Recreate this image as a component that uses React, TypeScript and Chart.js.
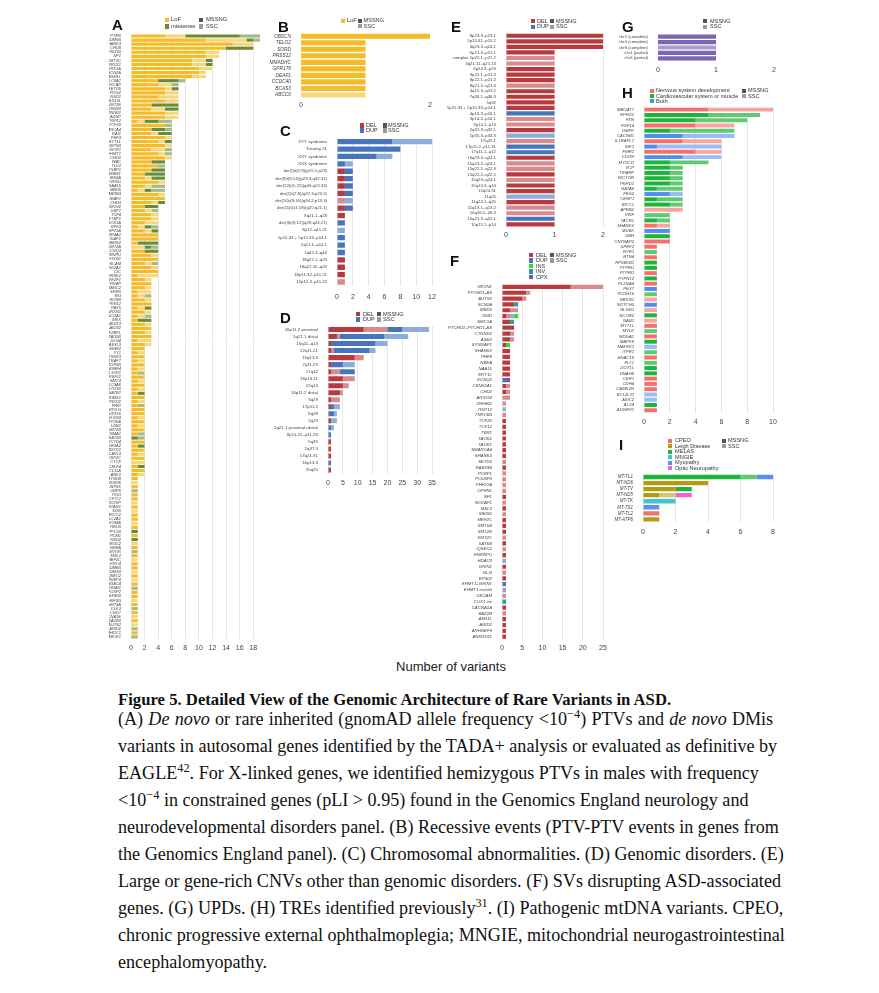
import React, { useEffect, useRef } from "react";
import { Chart, registerables } from "chart.js";
Chart.register(...registerables);

const SANS = "'Liberation Sans', Arial, Helvetica, sans-serif";
const SERIF = "'Liberation Serif', 'Times New Roman', Times, serif";

// ---------------- Panel A ----------------
const aGenes = [
  "PTEN","KDM5B","SHANK3","CHD8","ARID1B","NF1","KMT2C","ANKRD11","DYRK1A","SCN2A","ASH1L","SLC6A1",
  "SRCAP","SETD5","POGZ","NSD1","MED13L","KMT2E","GRIN2B","CTNNB1","ADNP",
  "TRIP12","TCF20","SMARCA4","RAI1","PHF3","MYT1L","KMT5B","GIGYF1","EHMT1","CHD2",
  "WAC","TLK2","STXBP1","SPAST","SIN3A","PPP2R5D","NAA15","MBD5","GABRB3","DEAF1","CHD3",
  "ZNF292","USP7","TCF4","SETBP1","SCN1A","RFX3","PHF21A","NR4A2","NCKAP1","MEIS2","KMT2A","KCNQ3","HNRNPU","FOXG1","DSCAM","CSNK2A1","CIC","BRSK2",
  "VEZF1","TRRAP","TANC2","SPEN","SKI","RORB","PRR12","PAX5","NRXN1","NCOA1","MKX","MED13","KIAA0232","IRF2BPL","GATAD2B","DLG4","ASXL3",
  "ZNF462","YY1","TSHZ3","TRAF7","TOP2B","TM9SF4","TBL1XR1","SRSF11","SMC3","SLC9A6","SETD1B","SATB1","RIMS1","PRKD1","PHIP","PAPOLG","NUP155","NLGN3","MYO5A","LDB1","KMT2B","KCNMA1","KAT2B","HECTD4","GRIA2","FBXO11","ELAVL3","DIP2C","CTCF","CELF4","BCL11A","ANK2",
  "ZMYND8","WDR26","USP9X","UBR5","TRIO","TCF7L2","SYNCRIP","STAG1","SON","SMARCC2","SLC2A1","SCN8A","RELN","PPP1CB","PCM1","NSD2","NR3C2","NBEA","MTOR","MSL2","MEF2C","LRRC4","KDM6B","KDM1B","IQSEC2","HIVEP3","HDAC4","GNAI1","FOXP2","EP400","EIF3G","DNMT3A","CUL3","CHD7","CACNA1E","BAZ2B","AUTS2","ARID2","AHDC1","ABCE1"
];
const aLofMSSNG = [
  5,11,15,14,11,11,9,9,10,10,9,4,
  4,5,5,4,5,3,3,5,5,
  1,5,3,3,5,4,5,3,4,5,
  3,4,3,2,2,4,2,1,4,5,3,
  2,2,3,3,2,1,2,4,4,1,0,2,3,4,2,3,4,1,
  2,3,2,1,1,2,3,1,2,1,1,2,3,2,3,1,2,
  2,1,2,1,2,1,1,2,1,2,1,1,2,1,1,2,2,1,2,1,2,1,0,2,1,2,1,2,0,1,2,1,
  1,0,1,0,1,1,0,1,0,1,1,0,1,0,1,0,0,1,0,1,0,1,1,0,1,0,1,0,1,1,0,1,0,1,0,1,0,0,1,0
];
const aLofSSC = [
  3,6,3,0,2,2,2,2,2,1,2,0,
  2,1,2,3,2,0,2,2,2,
  1,0,0,1,1,1,1,2,1,1,
  0,0,0,0,1,1,1,1,1,0,1,
  0,1,1,1,2,1,1,0,0,0,2,0,1,0,1,1,0,3,
  1,0,1,2,1,1,0,1,1,1,0,1,0,1,0,2,1,
  0,1,0,1,0,1,0,0,1,0,1,0,0,1,0,0,0,1,0,1,0,0,0,0,0,0,1,0,2,0,0,1,
  0,1,0,0,0,0,1,0,1,0,0,1,0,0,0,0,1,0,0,0,1,0,0,1,0,1,0,0,0,0,1,0,0,0,1,0,1,0,0,0
];
const aMisMSSNG = [
  8,1,0,4,0,0,1,1,0,0,0,3,
  0,1,0,0,0,4,2,0,0,
  2,0,2,2,0,1,0,0,0,0,
  2,0,2,3,2,0,0,1,0,0,1,
  2,0,0,0,0,1,1,0,0,3,1,2,0,0,0,0,0,0,
  0,0,0,0,0,0,0,1,0,0,2,0,0,0,0,0,0,
  0,0,0,0,0,0,0,0,0,0,0,1,0,0,0,0,0,0,0,0,0,0,1,0,1,0,0,0,0,1,0,0,
  0,0,0,0,0,0,0,0,0,0,0,0,0,1,0,1,0,0,0,0,0,0,0,0,0,0,0,0,0,0,0,0,0,0,0,0,0,0,0,0
];
const aMisSSC = [
  3,1,0,0,0,0,0,0,0,0,0,1,
  1,0,0,0,0,0,0,0,0,
  2,1,1,0,0,0,0,1,1,0,
  0,1,0,0,0,0,2,2,0,0,0,
  0,1,0,0,0,1,0,0,0,0,1,0,0,0,1,0,0,0,
  0,0,0,0,1,0,0,0,0,1,0,0,0,0,0,0,0,
  0,0,0,0,0,0,1,0,0,0,0,0,0,0,1,0,0,0,0,0,0,1,1,0,0,0,0,0,0,0,0,0,
  0,0,0,1,0,0,0,0,0,0,0,0,0,0,0,0,0,0,1,0,0,0,0,0,0,0,0,1,0,0,0,0,1,0,0,0,0,1,0,1
];
const aTickStep = 2;

// ---------------- Panel B ----------------
const bGenes = ["OBSCN","TELO2","SORD","PRSS12","MMADHC","GPR179","DEAF1","CCDC40","BCAS3","ABCC6"];
const bLofMSSNG = [2,1,1,1,1,1,1,1,1,0];
const bLofSSC = [0,0,0,0,0,0,0,0,0,1];

// ---------------- Panel C ----------------
const cEvents = [
  "XYY syndrome","Trisomy 21","XXY syndrome","XXX syndrome",
  "der(5)t(5;9)(p15.1;p23)","der(9)t(9;14)(p23.3;q32.31)","der(22)t(1;22)(q44;q13.33)","der(2)t(2;8)(q37.3;p23.2)",
  "der(16)t(9;16)(q34.2;p13.3)","der(11)t(11;18)(q25;q21.1)","Xq21.1–q28","der(3)t(3;12)(q29;q24.21)",
  "8p12–q11.21","5p15.33 + 5p15.33–p14.1","2q11.1–q14.1","1q42.3–q44","18q22.1–q23","18q21.32–q23","18p11.32–p11.21","12p12.3–p11.22"
];
const cDelMSSNG = [0,0,0,0,1,1,1,1,0,1,1,0,0,0,0,0,1,1,1,0];
const cDelSSC   = [0,0,0,0,0,0,0,0,1,0,0,0,0,0,0,0,0,0,0,1];
const cDupMSSNG = [7,8,5,1,1,1,1,1,0,1,0,1,0,1,1,1,0,0,0,0];
const cDupSSC   = [5,0,2,1,0,0,0,0,1,0,0,0,1,0,0,0,0,0,0,0];

// ---------------- Panel D ----------------
const dRegions = [
  "16p11.2 proximal","1q21.1 distal","15q11–q13","22q11.21","15q13.3","7q11.23","17q12","16p13.11","22q13","16p11.2 distal",
  "3q29","17p11.2","Xq28","2q13","1q21.1 proximal+distal","Xp11.22–p11.23","5q35","2q37.3","17q21.31","16p13.3","15q25"
];
const dDelMSSNG = [12,3,1,1,9,1,1,5,5,4,1,1,0,1,0,0,1,1,1,0,1];
const dDelSSC   = [8,1,0,1,3,0,3,4,2,1,3,0,0,0,0,0,0,0,0,0,0];
const dDupMSSNG = [5,15,15,12,0,4,5,0,0,0,0,1,2,0,1,1,0,0,0,1,0];
const dDupSSC   = [9,8,4,2,0,4,0,0,0,0,0,2,1,2,1,0,0,0,0,0,0];

// ---------------- Panel E ----------------
const eRegions = [
  "8p23.3–p23.1","5p15.31–p15.2","3q23.3–q24.1","Xp21.3–p21.1","complex 1p22.1–p21.2","3q21.11–q21.13","6p24.3–p23",
  "3p22.1–p21.3","8p22.1–p21.2","8q21.2–q21.3","4q12.3–q13.2","7q36.1–q36.3","5q32","5p15.33 + 5p15.33–p14.1",
  "4p16.3–p16.1","3p14.2–p14.1","3p14.1–p13","2q31.3–q32.1","1p35.3–p34.3","17q25.1","17p11.2–p11.31","17q11.1–q12",
  "16q23.3–q24.1","15q23.2–q24.1","15q22.1–q22.3","15q22.2–q22.2","15q23–q24.1","15q13.3–q14","12q24.31","11q25",
  "11q24.1–q25","11q13.1–q13.2","10q26.2–26.3","10q21.3–q22.1","10p15.1–p14"
];
const eDelMSSNG = [2,2,2,1,0,0,1,1,1,0,1,1,1,1,0,0,0,1,0,0,0,0,1,0,0,1,0,1,1,0,1,0,0,0,1];
const eDelSSC   = [0,0,0,0,1,1,0,0,0,1,0,0,0,0,0,1,1,0,0,1,0,0,0,1,1,0,1,0,0,0,0,1,1,0,0];
const eDupMSSNG = [0,0,0,0,0,0,0,0,0,0,0,0,0,0,1,0,0,0,0,0,1,1,0,0,0,0,0,0,0,0,0,0,0,1,0];
const eDupSSC   = [0,0,0,0,0,0,0,0,0,0,0,0,0,0,0,0,0,0,1,0,0,0,0,0,0,0,0,0,0,1,0,0,0,0,0];

// ---------------- Panel F ----------------
const fGenes = [
  "NRXN1","PTCHD1-AS","AUTS2","SCN2A","MBD5","DMD","SMC1A","PTCHD1+PTCHD1-AS","CTNND2","ANK2",
  "SYNGAP1","SHANK2","PHF8","NBEA","NAA15","MYT1L","KCNQ2","CSNK2A1","CHD2","ARID1B",
  "ZNF462","TRIP12","TNRC6B","TCF20","TCF12","TBR1","TAOK2","TAOK1","SMARCA4","SHANK3",
  "SETD5","RAB39B","PCBP1","POU3F3","PHF21A","OPHN1","NF1","NCKAP1","MSL3","MEIS2",
  "MEF2C","KMT5B","KMT2E","KMT2C","KAT6B","IQSEC2","HNRNPU","HDAC8","GRIN1","GLI3",
  "EP300","EHMT1+GRIN1","EHMT1 inv/del","DSCAM","CUX1 inv","CACNA1A","BAZ2B","ASH1L","ARID2","ARHGEF9","ANKRD11"
];
const fDelMSSNG = [17,6,5,3,2,1,2,3,2,2, 1,2,2,2,2,2,0,1,1,0, 0,0,0,1,1,1,1,1,1,1, 0,1,0,0,0,0,1,0,1,0, 1,1,1,0,1,0,1,0,1,0, 1,0,0,0,0,1,0,1,1,1,1];
const fDelSSC   = [8,1,1,0,2,1,0,0,1,1, 0,0,0,0,0,0,0,1,1,2, 1,0,1,0,0,0,0,0,0,0, 1,0,1,1,1,1,0,1,0,1, 0,0,0,1,0,1,0,0,0,1, 0,0,0,1,0,0,1,0,0,0,0];
const fDupMSSNG = [0,0,0,0,0,0,0,0,0,0, 0,0,0,0,0,0,1,0,0,0, 0,0,0,0,0,0,0,0,0,0, 0,0,0,0,0,0,0,0,0,0, 0,0,0,0,0,0,0,0,0,0, 0,1,0,0,0,0,0,0,0,0,0];
const fDupSSC   = [0,0,0,0,0,1,0,0,0,0, 0,0,0,0,0,0,0,0,0,0, 0,0,0,0,0,0,0,0,0,0, 0,0,0,0,0,0,0,0,0,0, 0,0,0,0,0,0,0,1,0,0, 0,0,0,0,0,0,0,0,0,0,0];
const fInsMSSNG = [0,0,0,0,0,1,0,0,0,0, 1,0,0,0,0,0,0,0,0,0, 0,0,0,0,0,0,0,0,0,0, 0,0,0,0,0,0,0,0,0,0, 0,0,0,0,0,0,0,0,0,0, 0,0,0,0,0,0,0,0,0,0,0];
const fInvMSSNG = [0,0,0,1,0,0,1,0,0,0, 0,0,0,0,0,0,0,0,0,0, 0,0,0,0,0,0,0,0,0,0, 0,0,0,0,0,0,0,0,0,0, 0,0,0,0,0,0,0,0,0,0, 0,0,0,0,1,0,0,0,0,0,0];
const fInvSSC   = [0,0,0,0,0,0,0,0,0,0, 0,0,0,0,0,0,0,0,0,0, 0,1,0,0,0,0,0,0,0,0, 0,0,0,0,0,0,0,0,0,0, 0,0,0,0,0,0,0,0,0,0, 0,0,0,0,0,0,0,0,0,0,0];
const fCpxMSSNG = [0,0,0,0,0,0,0,0,0,0, 0,0,0,0,0,0,1,0,0,0, 0,0,0,0,0,0,0,0,0,0, 0,0,0,0,0,0,0,0,0,0, 0,0,0,0,0,0,0,0,0,0, 0,0,0,0,0,0,0,0,0,0,0];
const fCpxSSC   = [0,0,0,0,0,0,0,0,0,0, 0,0,0,0,0,0,0,0,0,0, 0,0,0,0,0,0,0,0,0,0, 0,0,0,0,0,0,0,0,0,0, 0,0,0,0,0,0,0,0,0,0, 0,0,1,0,0,0,0,0,0,0,0];

// ---------------- Panel G ----------------
const gChroms = ["chr2 (complete)","chr4 (complete)","chr8 (complete)","chr1 (partial)","chr6 (partial)"];
const gMSSNG = [1,1,0,1,1];
const gSSC = [0,0,1,0,0];

// ---------------- Panel H ----------------
const hGenes = [
  "MBOAT7","EPHX2","FXN","FGF14","DMPK","CACNB1","IL1RAPL1","IGF1","FMR1","CDON",
  "MYOCD","VCP","TIPARP","RICTOR","PKHD1","GATA5","FRS2","CENPJ","BICC1","APBB2",
  "VWF","TACR1","SHANK2","MUSK","DBH","CNTNAP2","SPEF2","RYR1","RTN4","RPS6KB1",
  "PTPRU","PTPRD","PTPN12","PLXNA4","PEX7","PCDH15","NRXN1","NOTCH3","NLGN1","NCOR2",
  "NAB1","MYT1L","MYLK","MDGA1","MAPK8","MAP2K1","ITPR1","HDAC10","FLT1","DOT1L",
  "DNAH5","CER1","CDH4","CAMK2G","BCL2L11","ASIC2","ALX4","ADGRV1"
];
const hNervMSSNG = [5,0,0,4,0,0,3,0,4,0, 0,0,0,0,0,0,0,0,0,0, 0,0,1,0,0,2,1,0,1,0, 0,1,0,1,0,0,0,0,0,0, 0,1,0,1,0,0,0,1,0,0, 0,1,1,1,0,0,0,1];
const hNervSSC   = [5,0,0,3,0,0,3,0,2,0, 0,0,0,0,0,0,0,0,0,3, 0,0,1,0,0,0,0,0,0,0, 0,0,0,0,0,0,1,0,1,0, 1,0,0,0,0,0,0,0,0,0, 0,0,0,0,0,0,0,0];
const hCardMSSNG = [0,5,4,0,2,0,0,0,0,0, 2,2,2,2,2,1,0,1,2,0, 0,1,0,0,2,0,0,0,0,1, 1,0,1,0,0,0,0,0,0,1, 0,0,0,0,1,0,0,0,0,1, 1,0,0,0,0,0,1,0];
const hCardSSC   = [0,4,4,0,5,0,0,0,0,0, 3,1,1,1,1,2,0,2,1,0, 2,1,0,0,0,0,0,1,0,0, 0,0,0,0,0,1,0,0,0,0, 0,0,1,0,0,0,1,0,1,0, 0,0,0,0,0,0,0,0];
const hBothMSSNG = [0,0,0,0,0,3,0,1,0,3, 0,0,0,0,0,0,2,0,0,0, 0,0,0,2,0,0,0,0,0,0, 0,0,0,0,1,0,0,1,0,0, 0,0,0,0,0,0,0,0,0,0, 0,0,0,0,0,0,0,0];
const hBothSSC   = [0,0,0,0,0,4,0,5,0,3, 0,0,0,0,0,0,1,0,0,0, 0,0,0,0,0,0,0,0,0,0, 0,0,0,0,0,0,0,0,0,0, 0,0,0,0,0,1,0,0,0,0, 0,0,0,0,1,1,0,0];

// ---------------- Panel I ----------------
const iVariants = ["MT-TL1","MT-ND6","MT-TV","MT-ND5","MT-TK","MT-TS1","MT-TL2","MT-ATP6"];
const iCpeoMSSNG   = [0,0,0,0,0,0,1,0];
const iLeighMSSNG  = [0,4,2,1,0,0,0,1];
const iLeighSSC    = [0,0,0,1,0,0,0,0];
const iMelasMSSNG  = [6,0,1,0,0,0,0,0];
const iMelasSSC    = [1,0,0,0,0,0,0,0];
const iMngieMSSNG  = [0,0,0,0,2,0,0,0];
const iMyoMSSNG    = [1,0,0,0,0,1,0,0];
const iOpticMSSNG  = [0,0,0,1,0,0,0,0];

// ---------------- colours ----------------
const C = {
  lofM: "#F5BC28", lofS: "#F8D77C", misM: "#6A8C37", misS: "#A4BB85",
  delM: "#B83A3E", delS: "#D98A8C", dupM: "#4775BD", dupS: "#8DAEDD",
  ins: "#2EE02E", invM: "#2B9C9B", invS: "#7DC7C4", cpxM: "#7558A9", cpxS: "#A69AD3",
  updM: "#7968B0", updS: "#A99DD0",
  nerM: "#F66F6B", nerS: "#F9A4A2", carM: "#1DB43A", carS: "#5ECB72", bothM: "#4F8EF1", bothS: "#98BCF6",
  cpeo: "#F6706A", leighM: "#B69B12", leighS: "#D4C571", mngie: "#3EC9C9", myo: "#5B8EF0", optic: "#EE5FE0",
  gM: "#555555", gS: "#9A9A9A",
};

type DS = { data: number[]; color: string };
type Cfg = {
  labels: string[]; ds: DS[];
  pl: number; pr: number; pt: number; pb: number; yw: number;
  max: number; step: number; lf: number; italic: boolean; tickY: number; grid: boolean; bp: number;
};

const PADT = 8;
const PADR = 12;
const TF = 7;

function HBar({ c }: { c: Cfg }) {
  const ref = useRef<HTMLCanvasElement | null>(null);
  const xh = c.tickY - c.pb + 8;
  const w = Math.round(c.yw + (c.pr - c.pl) + PADR);
  const h = Math.round(PADT + (c.pb - c.pt) + xh);
  useEffect(() => {
    if (!ref.current) return;
    const chart = new Chart(ref.current, {
      type: "bar",
      data: {
        labels: c.labels,
        datasets: c.ds.map((d) => ({
          data: d.data, backgroundColor: d.color, borderWidth: 0, stack: "s",
          barPercentage: c.bp, categoryPercentage: 1,
        })),
      },
      options: {
        indexAxis: "y", animation: false, responsive: false, maintainAspectRatio: false,
        layout: { padding: { top: PADT, right: PADR, left: 0, bottom: 0 } },
        plugins: { legend: { display: false }, tooltip: { enabled: false } },
        scales: {
          x: {
            stacked: true, min: 0, max: c.max,
            afterFit: (s: any) => { s.height = xh; },
            grid: { display: c.grid, color: "#e6e6e6", drawTicks: false, lineWidth: 1 },
            border: { display: false },
            ticks: {
              stepSize: c.step, includeBounds: false, autoSkip: false, maxRotation: 0,
              padding: c.tickY - c.pb - TF / 2 - 1,
              font: { size: TF, family: SANS }, color: "#444",
            },
          },
          y: {
            stacked: true,
            afterFit: (s: any) => { s.width = c.yw; },
            grid: { display: false }, border: { display: false },
            ticks: {
              autoSkip: false, padding: 2,
              font: { size: c.lf, family: SANS, style: c.italic ? "italic" : "normal" }, color: "#444",
            },
          },
        },
      } as any,
    });
    return () => chart.destroy();
  }, []);
  return (
    <canvas ref={ref} width={w} height={h}
      style={{ position: "absolute", left: c.pl - c.yw, top: c.pt - PADT, width: w, height: h }} />
  );
}

type LI = { sx: number; tx: number; y: number; c: string; t: string };
function Legend({ items, fs }: { items: LI[]; fs: number }) {
  return (
    <>
      {items.map((it, i) => (
        <React.Fragment key={i}>
          <div style={{ position: "absolute", left: it.sx, top: it.y - fs * 0.38, width: fs * 0.76, height: fs * 0.76, background: it.c }} />
          <div style={{ position: "absolute", left: it.tx, top: it.y - fs * 0.62, fontFamily: SANS, fontSize: fs, lineHeight: `${fs * 1.2}px`, color: "#333", whiteSpace: "nowrap" }}>{it.t}</div>
        </React.Fragment>
      ))}
    </>
  );
}

function Letter({ t, x, y }: { t: string; x: number; y: number }) {
  return <div style={{ position: "absolute", left: x, top: y - 2, fontFamily: SANS, fontWeight: 700, fontSize: 15, lineHeight: "15px", color: "#111" }}>{t}</div>;
}

const panels: Cfg[] = [
  { labels: aGenes, ds: [
      { data: aLofMSSNG, color: C.lofM }, { data: aLofSSC, color: C.lofS },
      { data: aMisMSSNG, color: C.misM }, { data: aMisSSC, color: C.misS }],
    pl: 131, pr: 259.5, pt: 34, pb: 639.3, yw: 22, max: 19, step: aTickStep, lf: 4.0, italic: true, tickY: 648.3, grid: true, bp: 0.78 },
  { labels: bGenes, ds: [{ data: bLofMSSNG, color: C.lofM }, { data: bLofSSC, color: C.lofS }],
    pl: 301, pr: 430, pt: 33, pb: 98.2, yw: 34, max: 2, step: 2, lf: 4.8, italic: true, tickY: 105, grid: false, bp: 0.78 },
  { labels: cEvents, ds: [
      { data: cDelMSSNG, color: C.delM }, { data: cDelSSC, color: C.delS },
      { data: cDupMSSNG, color: C.dupM }, { data: cDupSSC, color: C.dupS }],
    pl: 337, pr: 432.3, pt: 138, pb: 285.4, yw: 66, max: 12, step: 2, lf: 4.3, italic: false, tickY: 296.7, grid: true, bp: 0.72 },
  { labels: dRegions, ds: [
      { data: dDelMSSNG, color: C.delM }, { data: dDelSSC, color: C.delS },
      { data: dDupMSSNG, color: C.dupM }, { data: dDupSSC, color: C.dupS }],
    pl: 328, pr: 431.7, pt: 326, pb: 473.5, yw: 60, max: 35, step: 5, lf: 4.4, italic: false, tickY: 483, grid: true, bp: 0.72 },
  { labels: eRegions, ds: [
      { data: eDelMSSNG, color: C.delM }, { data: eDelSSC, color: C.delS },
      { data: eDupMSSNG, color: C.dupM }, { data: eDupSSC, color: C.dupS }],
    pl: 506, pr: 603.3, pt: 33, pb: 227.1, yw: 64, max: 2, step: 1, lf: 4.3, italic: false, tickY: 235, grid: true, bp: 0.75 },
  { labels: fGenes, ds: [
      { data: fDelMSSNG, color: C.delM }, { data: fDelSSC, color: C.delS },
      { data: fDupMSSNG, color: C.dupM }, { data: fDupSSC, color: C.dupS },
      { data: fInsMSSNG, color: C.ins }, { data: fInvMSSNG, color: C.invM }, { data: fInvSSC, color: C.invS },
      { data: fCpxMSSNG, color: C.cpxM }, { data: fCpxSSC, color: C.cpxS }],
    pl: 502, pr: 603.3, pt: 284, pb: 639.6, yw: 60, max: 25, step: 5, lf: 4.3, italic: true, tickY: 648, grid: true, bp: 0.72 },
  { labels: gChroms, ds: [{ data: gMSSNG, color: C.updM }, { data: gSSC, color: C.updS }],
    pl: 658, pr: 774.3, pt: 34, pb: 61, yw: 40, max: 2, step: 1, lf: 4.2, italic: false, tickY: 70, grid: false, bp: 0.78 },
  { labels: hGenes, ds: [
      { data: hNervMSSNG, color: C.nerM }, { data: hNervSSC, color: C.nerS },
      { data: hCardMSSNG, color: C.carM }, { data: hCardSSC, color: C.carS },
      { data: hBothMSSNG, color: C.bothM }, { data: hBothSSC, color: C.bothS }],
    pl: 644, pr: 773.3, pt: 107, pb: 412.6, yw: 30, max: 10, step: 2, lf: 4.2, italic: true, tickY: 421.7, grid: true, bp: 0.75 },
  { labels: iVariants, ds: [
      { data: iCpeoMSSNG, color: C.cpeo }, { data: iLeighMSSNG, color: C.leighM }, { data: iLeighSSC, color: C.leighS },
      { data: iMelasMSSNG, color: C.carM }, { data: iMelasSSC, color: C.carS }, { data: iMngieMSSNG, color: C.mngie },
      { data: iMyoMSSNG, color: C.myo }, { data: iOpticMSSNG, color: C.optic }],
    pl: 643, pr: 773.3, pt: 474, pb: 522.4, yw: 30, max: 8, step: 2, lf: 4.5, italic: true, tickY: 532, grid: true, bp: 0.72 },
];

const capLine: React.CSSProperties = {
  position: "absolute", left: 118, fontFamily: SERIF, fontSize: 18.1, whiteSpace: "nowrap", color: "#111", lineHeight: "20px",
};
const sup: React.CSSProperties = { fontSize: "0.68em", lineHeight: 0 };

export default function App() {
  useEffect(() => { document.body.style.background = "#fff"; }, []);
  const lf = 5.6;
  return (
    <div style={{ position: "absolute", left: 0, top: 0, width: 879, height: 993, background: "#fff", overflow: "hidden" }}>
      {panels.map((p, i) => <HBar key={i} c={p} />)}

      <Letter t="A" x={112} y={19} />
      <Letter t="B" x={278} y={21} />
      <Letter t="C" x={280} y={125} />
      <Letter t="D" x={280} y={312} />
      <Letter t="E" x={451} y={21} />
      <Letter t="F" x={450} y={255} />
      <Letter t="G" x={622} y={21} />
      <Letter t="H" x={622} y={87} />
      <Letter t="I" x={619} y={439} />

      <Legend fs={5.8} items={[
        { sx: 165, tx: 171, y: 20, c: C.lofM, t: "LoF" },
        { sx: 165, tx: 171, y: 26.3, c: C.misM, t: "missense" },
        { sx: 199, tx: 206, y: 20, c: C.gM, t: "MSSNG" },
        { sx: 199, tx: 206, y: 26.3, c: C.gS, t: "SSC" },
      ]} />
      <Legend fs={lf} items={[
        { sx: 341, tx: 347, y: 20.7, c: C.lofM, t: "LoF" },
        { sx: 357.5, tx: 363.5, y: 20.7, c: C.gM, t: "MSSNG" },
        { sx: 357.5, tx: 363.5, y: 26, c: C.gS, t: "SSC" },
      ]} />
      <Legend fs={lf} items={[
        { sx: 359.5, tx: 366, y: 125.5, c: C.delM, t: "DEL" },
        { sx: 359.5, tx: 366, y: 130.5, c: C.dupM, t: "DUP" },
        { sx: 382.5, tx: 388, y: 125.5, c: C.gM, t: "MSSNG" },
        { sx: 382.5, tx: 388, y: 130.5, c: C.gS, t: "SSC" },
      ]} />
      <Legend fs={lf} items={[
        { sx: 356, tx: 363, y: 314, c: C.delM, t: "DEL" },
        { sx: 356, tx: 363, y: 319.5, c: C.dupM, t: "DUP" },
        { sx: 377, tx: 383, y: 314, c: C.gM, t: "MSSNG" },
        { sx: 377, tx: 383, y: 319.5, c: C.gS, t: "SSC" },
      ]} />
      <Legend fs={lf} items={[
        { sx: 530.5, tx: 537, y: 21.3, c: C.delM, t: "DEL" },
        { sx: 530.5, tx: 537, y: 26.7, c: C.dupM, t: "DUP" },
        { sx: 550, tx: 556, y: 21.3, c: C.gM, t: "MSSNG" },
        { sx: 550, tx: 556, y: 26.7, c: C.gS, t: "SSC" },
      ]} />
      <Legend fs={lf} items={[
        { sx: 529, tx: 536, y: 255, c: C.delM, t: "DEL" },
        { sx: 529, tx: 536, y: 260.5, c: C.dupM, t: "DUP" },
        { sx: 529, tx: 536, y: 266, c: C.ins, t: "INS" },
        { sx: 529, tx: 536, y: 271.5, c: C.invM, t: "INV" },
        { sx: 529, tx: 536, y: 277, c: C.cpxM, t: "CPX" },
        { sx: 550, tx: 556, y: 255, c: C.gM, t: "MSSNG" },
        { sx: 550, tx: 556, y: 260.5, c: C.gS, t: "SSC" },
      ]} />
      <Legend fs={lf} items={[
        { sx: 703, tx: 710, y: 21, c: C.gM, t: "MSSNG" },
        { sx: 703, tx: 710, y: 26.7, c: C.gS, t: "SSC" },
      ]} />
      <Legend fs={lf} items={[
        { sx: 649.5, tx: 656, y: 90.7, c: C.nerM, t: "Nervous system development" },
        { sx: 649.5, tx: 656, y: 96, c: C.carM, t: "Cardiovascular system or muscle" },
        { sx: 649.5, tx: 656, y: 101.3, c: C.bothM, t: "Both" },
        { sx: 741.5, tx: 748, y: 90.7, c: C.gM, t: "MSSNG" },
        { sx: 741.5, tx: 748, y: 96, c: C.gS, t: "SSC" },
      ]} />
      <Legend fs={lf} items={[
        { sx: 668, tx: 675, y: 440.7, c: C.cpeo, t: "CPEO" },
        { sx: 668, tx: 675, y: 446.2, c: C.leighM, t: "Leigh Disease" },
        { sx: 668, tx: 675, y: 451.7, c: C.carM, t: "MELAS" },
        { sx: 668, tx: 675, y: 457.2, c: C.mngie, t: "MNGIE" },
        { sx: 668, tx: 675, y: 462.7, c: C.myo, t: "Myopathy" },
        { sx: 668, tx: 675, y: 468.2, c: C.optic, t: "Optic Neuropathy" },
        { sx: 722, tx: 728, y: 440.7, c: C.gM, t: "MSSNG" },
        { sx: 722, tx: 728, y: 446.2, c: C.gS, t: "SSC" },
      ]} />

      <div style={{ position: "absolute", left: 351, width: 200, top: 659, textAlign: "center", fontFamily: SANS, fontSize: 13, lineHeight: "16px", color: "#222" }}>Number of variants</div>

      <div style={{ ...capLine, top: 690, fontWeight: 700, fontSize: 16.7 }}>Figure 5. Detailed View of the Genomic Architecture of Rare Variants in ASD.</div>
      <div style={{ ...capLine, top: 709, wordSpacing: "0.7px" }}>(A) <i>De novo</i> or rare inherited (gnomAD allele frequency &lt;10<sup style={sup}>−4</sup>) PTVs and <i>de novo</i> DMis</div>
      <div style={{ ...capLine, top: 736 }}>variants in autosomal genes identified by the TADA+ analysis or evaluated as definitive by</div>
      <div style={{ ...capLine, top: 763 }}>EAGLE<sup style={sup}>42</sup>. For X-linked genes, we identified hemizygous PTVs in males with frequency</div>
      <div style={{ ...capLine, top: 790 }}>&lt;10<sup style={sup}>−4</sup> in constrained genes (pLI &gt; 0.95) found in the Genomics England neurology and</div>
      <div style={{ ...capLine, top: 817 }}>neurodevelopmental disorders panel. (B) Recessive events (PTV-PTV events in genes from</div>
      <div style={{ ...capLine, top: 844 }}>the Genomics England panel). (C) Chromosomal abnormalities. (D) Genomic disorders. (E)</div>
      <div style={{ ...capLine, top: 871 }}>Large or gene-rich CNVs other than genomic disorders. (F) SVs disrupting ASD-associated</div>
      <div style={{ ...capLine, top: 898 }}>genes. (G) UPDs. (H) TREs identified previously<sup style={sup}>31</sup>. (I) Pathogenic mtDNA variants. CPEO,</div>
      <div style={{ ...capLine, top: 925 }}>chronic progressive external ophthalmoplegia; MNGIE, mitochondrial neurogastrointestinal</div>
      <div style={{ ...capLine, top: 952 }}>encephalomyopathy.</div>
    </div>
  );
}
